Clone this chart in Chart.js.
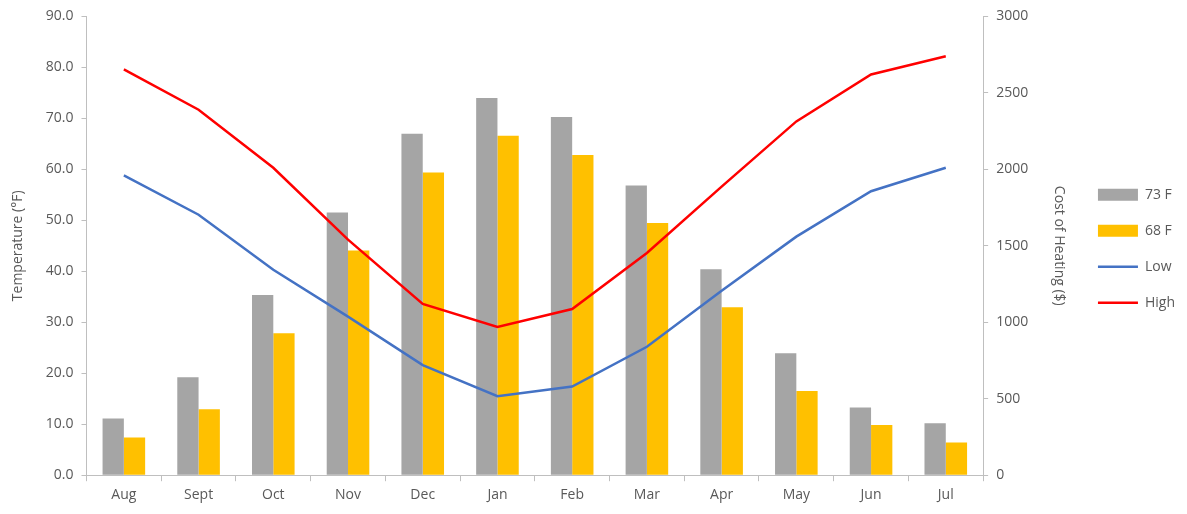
<!DOCTYPE html>
<html>
<head>
<meta charset="utf-8">
<script src="https://cdn.jsdelivr.net/npm/chart.js@4"></script>
<style>
  html, body { margin: 0; padding: 0; background: #fff; }
  #wrap { width: 1187px; height: 514px; }
</style>
</head>
<body>
<div id="wrap"><canvas id="chart-area"></canvas></div>
<script>
const months = ['Aug','Sept','Oct','Nov','Dec','Jan','Feb','Mar','Apr','May','Jun','Jul'];
// cost of heating ($), right axis
const cost73 = [371, 640, 1179, 1718, 2232, 2467, 2343, 1895, 1347, 797, 443, 339];
const cost68 = [247, 432, 928, 1469, 1980, 2220, 2094, 1649, 1098, 550, 328, 214];
// temperature (F), left axis
const lowTemp = [58.8, 51.1, 40.3, 31.1, 21.6, 15.5, 17.4, 25.2, 36.2, 46.8, 55.7, 60.3];
const highTemp = [79.6, 71.7, 60.3, 46.2, 33.6, 29.1, 32.6, 43.6, 56.6, 69.4, 78.6, 82.2];

const axisColor = '#BFBFBF';
const textColor = '#595959';
const font = { family: "'Open Sans', sans-serif", size: 14 };

Chart.defaults.color = textColor;
Chart.defaults.font.family = font.family;
Chart.defaults.font.size = font.size;

function createChart() {
    ctx = document.getElementById('chart-area').getContext('2d');
    return new Chart(ctx, {
        type: 'bar',
        data: {
            labels: months,
            datasets: [{
                label: '73 F',
                data: cost73,
                backgroundColor: '#A5A5A5',
                borderColor: '#A5A5A5',
                borderWidth: 0,
                pointStyle: 'rect',
                yAxisID: 'yC',
                order: 2,
                barPercentage: 1,
                categoryPercentage: 0.57
            }, {
                label: '68 F',
                data: cost68,
                backgroundColor: '#FFC000',
                borderColor: '#FFC000',
                borderWidth: 0,
                pointStyle: 'rect',
                yAxisID: 'yC',
                order: 2,
                barPercentage: 1,
                categoryPercentage: 0.57
            }, {
                type: 'line',
                label: 'Low',
                data: lowTemp,
                borderColor: '#4472C4',
                backgroundColor: '#4472C4',
                borderWidth: 2.5,
                pointRadius: 0,
                pointStyle: 'line',
                tension: 0,
                yAxisID: 'yT',
                order: 1
            }, {
                type: 'line',
                label: 'High',
                data: highTemp,
                borderColor: '#FF0000',
                backgroundColor: '#FF0000',
                borderWidth: 2.5,
                pointRadius: 0,
                pointStyle: 'line',
                tension: 0,
                yAxisID: 'yT',
                order: 1
            }]
        },
        options: {
            responsive: true,
            maintainAspectRatio: false,
            animation: false,
            layout: {
                padding: { left: 6, right: 2, top: 9, bottom: 6 }
            },
            plugins: {
                legend: {
                    display: true,
                    position: 'right',
                    align: 'start',
                    title: {
                        display: true,
                        text: '',
                        padding: { top: 140, bottom: 0 }
                    },
                    labels: {
                        usePointStyle: true,
                        pointStyleWidth: 40,
                        boxHeight: 12,
                        padding: 22,
                        color: textColor,
                        font: font,
                        sort: (a, b) => a.datasetIndex - b.datasetIndex
                    }
                },
                tooltip: { enabled: false }
            },
            scales: {
                x: {
                    grid: {
                        display: true,
                        drawOnChartArea: false,
                        offset: true,
                        tickLength: 6,
                        color: axisColor
                    },
                    border: { color: axisColor },
                    ticks: { color: textColor, font: font, padding: 5 }
                },
                yT: {
                    position: 'left',
                    min: 0,
                    max: 90,
                    ticks: {
                        stepSize: 10,
                        color: textColor,
                        font: font,
                        padding: 8,
                        callback: (v) => v.toFixed(1)
                    },
                    grid: {
                        display: true,
                        drawOnChartArea: false,
                        tickLength: 5,
                        color: axisColor
                    },
                    border: { color: axisColor },
                    title: {
                        display: true,
                        text: 'Temperature (°F)',
                        color: textColor,
                        font: font,
                        padding: { top: 4, bottom: 11 }
                    }
                },
                yC: {
                    position: 'right',
                    min: 0,
                    max: 3000,
                    ticks: {
                        stepSize: 500,
                        color: textColor,
                        font: font,
                        padding: 8,
                        callback: (v) => String(v)
                    },
                    grid: {
                        display: true,
                        drawOnChartArea: false,
                        tickLength: 5,
                        color: axisColor
                    },
                    border: { color: axisColor },
                    title: {
                        display: true,
                        text: 'Cost of Heating ($)',
                        color: textColor,
                        font: font,
                        padding: { top: 9, bottom: 14 }
                    }
                }
            }
        }
    });
}

createChart();
</script>
</body>
</html>
